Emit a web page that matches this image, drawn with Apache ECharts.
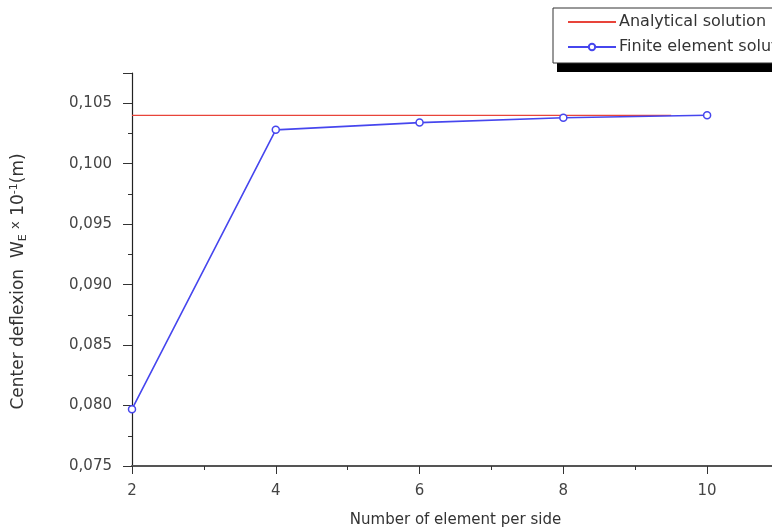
<!DOCTYPE html>
<html><head><meta charset="utf-8">
<script src="https://cdn.jsdelivr.net/npm/echarts@6/dist/echarts.min.js"></script>
<style>html,body{margin:0;padding:0;background:#fff}#c{width:772px;height:531px}</style>
</head><body><div id="c"></div>
<script>
var elements = [2, 4, 6, 8, 10];
var feValues = [0.0797, 0.1028, 0.1034, 0.1038, 0.1040];
var analyticalX = [2, 9.5];
var analyticalValue = 0.1040;
var seriesNames = ['Analytical solution', 'Finite element solution'];

var chart = echarts.init(document.getElementById('c'));
var font = 'DejaVu Sans, Verdana, sans-serif';
chart.setOption({
  animation: false,
  backgroundColor: '#fff',
  grid: {left: 132, top: 73, right: -7, bottom: 65, outerBoundsMode: 'none', containLabel: false},
  graphic: [{
    type: 'rect', z: 0, silent: true,
    shape: {x: 557, y: 58, width: 240, height: 14},
    style: {fill: '#000'}
  }],
  legend: {
    orient: 'vertical', left: 553, top: 8, z: 10,
    data: [{name: seriesNames[0], itemStyle: {opacity: 0}}, {name: seriesNames[1]}],
    padding: [6, 30, 8, 14], itemGap: 9, itemWidth: 48, itemHeight: 8,
    backgroundColor: '#fff', borderColor: '#333', borderWidth: 1, borderRadius: 0,
    textStyle: {fontFamily: font, fontSize: 16, color: '#333', padding: [0, 0, 0, -2]}
  },
  xAxis: {
    type: 'value', min: 2, max: 11, interval: 2,
    name: 'Number of element per side', nameLocation: 'middle', nameGap: 47,
    nameTextStyle: {fontFamily: font, fontSize: 15, color: '#333'},
    axisLine: {lineStyle: {color: '#555', width: 2}},
    axisTick: {length: 8, lineStyle: {color: '#333'}},
    minorTick: {show: true, splitNumber: 2, length: 4, lineStyle: {color: '#333'}},
    splitLine: {show: false},
    axisLabel: {fontFamily: font, fontSize: 15, color: '#444', margin: 18,
      formatter: function (v) { return v <= 10 && v % 2 === 0 ? String(v) : ''; }}
  },
  yAxis: {
    type: 'value', min: 0.075, max: 0.1075, interval: 0.005,
    name: 'Center deflexion  W{sub|E} {x|x} 10{sup|-1}(m)', nameLocation: 'middle', nameGap: 103, nameRotate: 90,
    nameTextStyle: {fontFamily: font, fontSize: 17, color: '#333', padding: [0, 24, 0, 0],
      rich: {
        sub: {fontFamily: font, fontSize: 11, color: '#333', padding: [10, 0, 0, 0]},
        x: {fontFamily: font, fontSize: 13, color: '#333', padding: [0, 0, 6, 0]},
        sup: {fontFamily: font, fontSize: 11, color: '#333', padding: [0, 0, 9, 0]}
      }},
    axisLine: {show: true, lineStyle: {color: '#222', width: 1.2}},
    axisTick: {show: true, length: 9, lineStyle: {color: '#333'}},
    minorTick: {show: true, splitNumber: 2, length: 4, lineStyle: {color: '#333'}},
    splitLine: {show: false},
    axisLabel: {fontFamily: font, fontSize: 15, color: '#444', margin: 20,
      formatter: function (v) {
        var k = Math.round(v * 10000);
        if (k % 50 !== 0) return '';
        return v.toFixed(3).replace('.', ',');
      }}
  },
  series: [
    {
      name: seriesNames[0], type: 'line', symbol: 'none', z: 2,
      lineStyle: {color: '#e8443a', width: 1.2}, itemStyle: {color: '#e8443a'},
      data: analyticalX.map(function (x) { return [x, analyticalValue]; })
    },
    {
      name: seriesNames[1], type: 'line', symbol: 'circle', symbolSize: 7, z: 3,
      lineStyle: {color: '#4646ee', width: 1.6},
      itemStyle: {color: '#fff', borderColor: '#4646ee', borderWidth: 1.5},
      data: elements.map(function (x, i) { return [x, feValues[i]]; })
    }
  ]
});
</script></body></html>
